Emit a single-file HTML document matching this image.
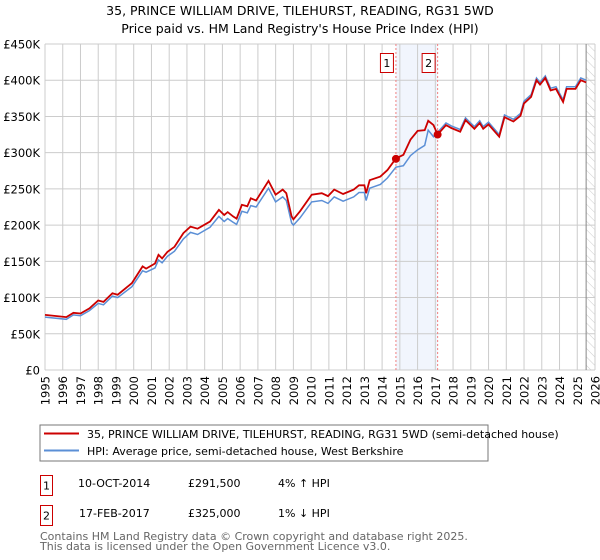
<!DOCTYPE html>
<html><head><meta charset="utf-8"><style>
body{margin:0;background:#fff;width:600px;height:560px;overflow:hidden;font-family:"DejaVu Sans","Liberation Sans",sans-serif;}
svg{display:block}
</style></head><body>
<svg id="c" width="600" height="560" xmlns="http://www.w3.org/2000/svg">
<text x="300" y="15" text-anchor="middle" font-size="12.5" fill="#000">35, PRINCE WILLIAM DRIVE, TILEHURST, READING, RG31 5WD</text>
<text x="300" y="33" text-anchor="middle" font-size="12.5" fill="#000">Price paid vs. HM Land Registry's House Price Index (HPI)</text>
<g id="grid"></g><g id="marks"></g><g id="axes"></g>
<g>
<rect x="40" y="425" width="448" height="36" fill="#fff" stroke="#777"/>
<line x1="44" y1="433.5" x2="79" y2="433.5" stroke="#cc0000" stroke-width="2"/>
<text x="87" y="438" font-size="11">35, PRINCE WILLIAM DRIVE, TILEHURST, READING, RG31 5WD (semi-detached house)</text>
<line x1="44" y1="450.5" x2="79" y2="450.5" stroke="#5b8fd6" stroke-width="2"/>
<text x="87" y="455" font-size="11">HPI: Average price, semi-detached house, West Berkshire</text>
</g>
<g font-size="11">
<rect x="40.5" y="475.5" width="12" height="20" fill="#fff" stroke="#cc0000"/>
<text x="46.5" y="489.5" text-anchor="middle">1</text>
<text x="78" y="487">10-OCT-2014</text>
<text x="188" y="487">£291,500</text>
<text x="278" y="487">4% ↑ HPI</text>
<rect x="40.5" y="505.5" width="12" height="20" fill="#fff" stroke="#cc0000"/>
<text x="46.5" y="519.5" text-anchor="middle">2</text>
<text x="79" y="517">17-FEB-2017</text>
<text x="188" y="517">£325,000</text>
<text x="278" y="517">1% ↓ HPI</text>
</g>
<text x="40" y="540" font-size="11" fill="#666">Contains HM Land Registry data © Crown copyright and database right 2025.</text>
<text x="40" y="550" font-size="11" fill="#666">This data is licensed under the Open Government Licence v3.0.</text>
</svg>
<script>
const yearTicks=[1995,1996,1997,1998,1999,2000,2001,2002,2003,2004,2005,2006,2007,2008,2009,2010,2011,2012,2013,2014,2015,2016,2017,2018,2019,2020,2021,2022,2023,2024,2025,2026];
const priceTicks=[0,50,100,150,200,250,300,350,400,450];
const priceLabels=["£0","£50K","£100K","£150K","£200K","£250K","£300K","£350K","£400K","£450K"];
const dates=[1995.0,1996.2,1996.6,1997.0,1997.5,1998.0,1998.3,1998.8,1999.1,1999.9,2000.5,2000.7,2001.2,2001.4,2001.6,2001.9,2002.3,2002.8,2003.2,2003.6,2004.3,2004.8,2005.1,2005.3,2005.6,2005.8,2006.1,2006.4,2006.6,2006.9,2007.6,2008.0,2008.4,2008.6,2008.9,2009.0,2009.37,2010.03,2010.6,2010.95,2011.3,2011.8,2012.4,2012.7,2013.0,2013.1,2013.3,2013.9,2014.3,2014.78,2015.2,2015.6,2016.0,2016.4,2016.6,2016.9,2017.13,2017.6,2017.9,2018.4,2018.7,2019.2,2019.5,2019.7,2020.0,2020.6,2020.9,2021.4,2021.8,2022.0,2022.4,2022.7,2022.9,2023.2,2023.5,2023.8,2024.2,2024.4,2024.9,2025.2,2025.5];
const propertyValues=[76,73,79,78,85,96,94,106,104,120,143,140,147,159,154,163,170,189,198,195,205,221,214,218,212,209,228,226,237,234,261,242,249,244,212,208,219,242,244,240,249,243,249,255,255,244,262,267,276,292,297,318,330,331,344,338,325,338,334,329,345,333,341,333,339,322,349,343,351,368,377,400,394,403,386,388,370,388,388,400,397];
const hpiValues=[73,70,76,75,82,92,90,102,100,115,137,135,141,152,148,157,164,181,190,187,197,212,205,209,204,201,219,217,227,225,251,232,239,234,203,200,210,232,234,230,239,233,239,245,245,234,251,256,265,280,282,296,304,310,331,322,328,341,337,332,348,336,344,336,342,325,352,346,354,371,380,403,397,406,389,391,373,391,391,403,400];
const sales=[{d:2014.78,v:291.5},{d:2017.13,v:325}];
const X0=45,X1=595,Y0=370,Y1=44;
function xs(y){return X0+(y-1995)/31*(X1-X0);}
function ys(v){return Y0-v/450*(Y0-Y1);}
const NS="http://www.w3.org/2000/svg";
function mk(t,a,p){const e=document.createElementNS(NS,t);for(const k in a)e.setAttribute(k,a[k]);p.appendChild(e);return e;}
const grid=document.getElementById('grid'),marks=document.getElementById('marks'),axes=document.getElementById('axes');
const defs=mk('defs',{},grid);
const pat=mk('pattern',{id:'h',width:'6',height:'6',patternUnits:'userSpaceOnUse',patternTransform:'rotate(-45)'},defs);
mk('line',{x1:0,y1:0,x2:0,y2:6,stroke:'#ccc','stroke-width':1},pat);
const sp=mk('rect',{x:xs(sales[0].d),y:Y1,width:xs(sales[1].d)-xs(sales[0].d),height:Y0-Y1,fill:'#f1f5fd'},grid);


const hx=xs(2025.5);
const ht=mk('rect',{x:hx,y:Y1,width:X1-hx,height:Y0-Y1,fill:'url(#h)'},grid);


yearTicks.forEach(y=>{
  const l=mk('line',{x1:xs(y),y1:Y1,x2:xs(y),y2:Y0,stroke:'#ccc','stroke-width':1},grid);
  
  
  const t=mk('text',{x:0,y:0,'font-size':'11.5','text-anchor':'end',transform:`translate(${xs(y)+4.5},${376}) rotate(-90)`},axes);
  t.textContent=y;
  
  
});
priceTicks.forEach((v,i)=>{
  const l=mk('line',{x1:X0,y1:ys(v),x2:X1,y2:ys(v),stroke:'#ccc','stroke-width':1},grid);
  
  
  const t=mk('text',{x:40,y:ys(v)+4.5,'font-size':'11.5','text-anchor':'end'},axes);
  t.textContent=priceLabels[i];
  
  
});
const vl=mk('line',{x1:hx,y1:Y1,x2:hx,y2:Y0,stroke:'#888','stroke-width':1},grid);


function path(vals){return vals.map((v,i)=>(i?'L':'M')+xs(dates[i]).toFixed(1)+','+ys(v).toFixed(1)).join('');}
const hp=mk('path',{d:path(hpiValues),fill:'none',stroke:'#5b8fd6','stroke-width':1.5},marks);


const pp=mk('path',{d:path(propertyValues),fill:'none',stroke:'#cc0000','stroke-width':1.8},marks);


sales.forEach((s,i)=>{
  const l=mk('line',{x1:xs(s.d),y1:Y1,x2:xs(s.d),y2:Y0,stroke:'#f08080','stroke-width':1,'stroke-dasharray':'2,2'},marks);
  
  
  const c=mk('circle',{cx:xs(s.d),cy:ys(s.v),r:4,fill:'#cc0000'},marks);
  
  
  const r=mk('rect',{x:xs(s.d)-15.5,y:53.5,width:13,height:19,fill:'#fff',stroke:'#cc0000'},marks);
  
  
  const t=mk('text',{x:xs(s.d)-9,y:67,'font-size':'11','text-anchor':'middle'},marks);
  t.textContent=String(i+1);
  
  
});
</script>
</body></html>
